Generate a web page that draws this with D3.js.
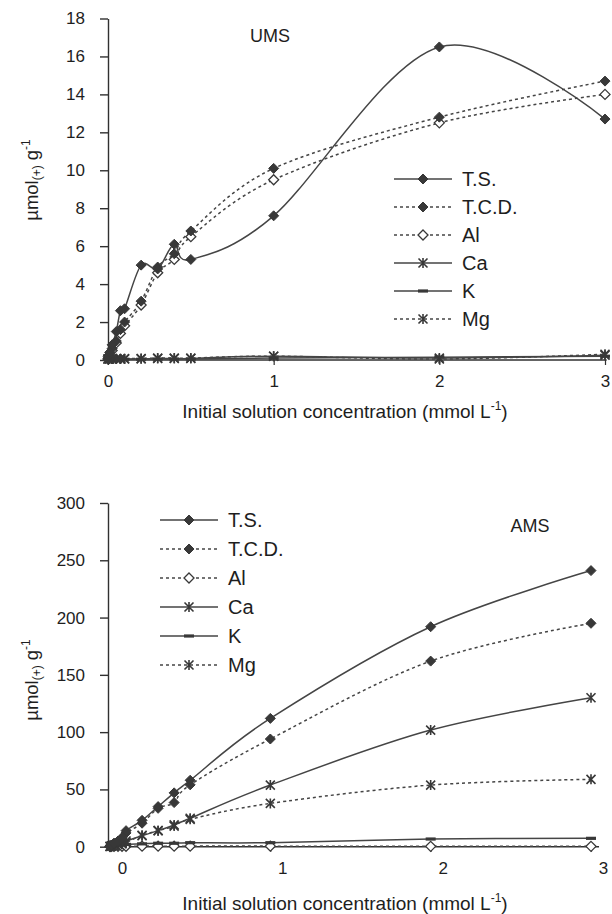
<!DOCTYPE html>
<html><head><meta charset="utf-8">
<script src="https://cdn.jsdelivr.net/npm/d3@7"></script>
<style>
body{margin:0;background:#fff}
svg{display:block}
text{font-family:"Liberation Sans",Arial,sans-serif;fill:#1e1e1e}
</style>
</head><body>
<svg id="c" width="612" height="914"></svg>
<script>
// ---------- data ----------
const concentrations = [0, 0.01, 0.025, 0.05, 0.075, 0.1, 0.2, 0.3, 0.4, 0.5, 1, 2, 3];
const seriesNames = ["T.S.", "T.C.D.", "Al", "Ca", "K", "Mg"];
const xTickValues = [0, 1, 2, 3];
const umsYTicks = [0, 2, 4, 6, 8, 10, 12, 14, 16, 18];
const amsYTicks = [0, 50, 100, 150, 200, 250, 300];

// UMS panel values (µmol(+) g-1)
const umsTS  = [0.2, 0.4, 0.8, 1.5, 2.6, 2.7, 5.0, 4.8, 6.1, 5.3, 7.6, 16.5, 12.7];
const umsTCD = [0.1, 0.3, 0.6, 1.0, 1.6, 2.0, 3.1, 4.9, 5.6, 6.8, 10.1, 12.8, 14.7];
const umsAl  = [0.05, 0.2, 0.5, 0.9, 1.4, 1.8, 2.9, 4.6, 5.3, 6.5, 9.5, 12.5, 14.0];
const umsCa  = [0.05, 0.05, 0.05, 0.05, 0.05, 0.05, 0.06, 0.08, 0.08, 0.08, 0.2, 0.1, 0.25];
const umsK   = [0.02, 0.02, 0.03, 0.03, 0.03, 0.04, 0.04, 0.05, 0.05, 0.05, 0.1, 0.15, 0.2];
const umsMg  = [0.05, 0.06, 0.06, 0.06, 0.07, 0.07, 0.08, 0.1, 0.1, 0.1, 0.2, 0.05, 0.3];

// AMS panel values (µmol(+) g-1)
const amsTS  = [0.5, 1.5, 3, 5, 8, 14, 23, 35, 47, 58, 112, 192, 241];
const amsTCD = [0.5, 1.3, 2.8, 4.8, 7.5, 12, 20.5, 33.5, 38.5, 54, 94, 162, 195];
const amsAl  = [0.2, 0.3, 0.3, 0.4, 0.4, 0.4, 0.5, 0.5, 0.5, 0.5, 0.5, 0.3, 0.3];
const amsCa  = [0.3, 0.8, 1.5, 2.5, 3.5, 5, 9.6, 14, 19, 24.8, 53.8, 101.8, 130];
const amsK   = [0.3, 0.5, 0.8, 1.2, 1.5, 2, 2.5, 3, 3, 3.5, 3.5, 6.7, 7.3];
const amsMg  = [0.2, 0.5, 1, 1.8, 2.5, 3.5, 10, 14, 18, 23.9, 37.8, 53.8, 58.8];

// ---------- styles ----------
const styleOf = {
  "T.S.":   {dash: null,  marker: "diamond"},
  "T.C.D.": {dash: "3,3", marker: "diamond"},
  "Al":     {dash: "3,3", marker: "diamondOpen"},
  "Ca":     {dash: null,  marker: "star"},
  "K":      {dash: null,  marker: "bar"},
  "Mg":     {dash: "3,3", marker: "star"}
};
const ink = "#454545";

const svg = d3.select("#c");

function drawMarker(g, type, cx, cy) {
  if (type === "diamond" || type === "diamondOpen") {
    const r = 5;
    g.append("path")
      .attr("d", `M${cx},${cy - r}L${cx + r},${cy}L${cx},${cy + r}L${cx - r},${cy}Z`)
      .attr("fill", type === "diamond" ? "#383838" : "#fff")
      .attr("stroke", "#383838").attr("stroke-width", type === "diamond" ? 1 : 1.3);
  } else if (type === "star") {
    const r = 4.5;
    g.append("path")
      .attr("d", `M${cx - r},${cy - r}L${cx + r},${cy + r}M${cx - r},${cy + r}L${cx + r},${cy - r}M${cx},${cy - r - 0.5}L${cx},${cy + r + 0.5}`)
      .attr("stroke", "#383838").attr("stroke-width", 1.6).attr("fill", "none");
  } else if (type === "bar") {
    g.append("rect").attr("x", cx - 5).attr("y", cy - 1.6).attr("width", 10).attr("height", 3.2)
      .attr("fill", "#383838");
  }
}

function panel(cfg) {
  const g = svg.append("g");
  const x = d3.scaleLinear().domain([0, 3]).range(cfg.xRange);
  const y = d3.scaleLinear().domain(cfg.yDomain).range(cfg.yRange);

  // y axis
  const ya = g.append("g").attr("transform", `translate(${cfg.axisX},0)`)
    .call(d3.axisLeft(y).tickValues(cfg.yTicks).tickSize(8).tickSizeOuter(0).tickPadding(15));
  ya.select(".domain").attr("stroke", "#303030").attr("stroke-width", 1.4);
  ya.selectAll(".tick line").attr("stroke", "#303030").attr("stroke-width", 1.4);
  ya.selectAll(".tick text").attr("font-size", 17).attr("fill", "#1e1e1e")
    .attr("font-family", "Liberation Sans, Arial, sans-serif");

  // x axis
  const xa = g.append("g").attr("transform", `translate(0,${y(0)})`)
    .call(d3.axisBottom(x).tickValues(xTickValues).tickFormat(d3.format("d")).tickSize(5).tickSizeOuter(0).tickPadding(10));
  xa.select(".domain").remove();
  xa.append("line").attr("x1", cfg.axisX).attr("x2", x(cfg.xEnd)).attr("stroke", "#303030").attr("stroke-width", 1.4);
  xa.selectAll(".tick line").attr("stroke", "#303030").attr("stroke-width", 1.2);
  xa.selectAll(".tick text").attr("font-size", 17).attr("fill", "#1e1e1e").attr("dx", cfg.labelDx)
    .attr("font-family", "Liberation Sans, Arial, sans-serif");

  // axis titles
  const xt = g.append("text").attr("x", cfg.xTitleX).attr("y", cfg.xTitleY).attr("text-anchor", "middle")
    .attr("font-size", 19);
  xt.append("tspan").text("Initial solution concentration (mmol L");
  xt.append("tspan").attr("font-size", 12).attr("dy", -8).text("-1");
  xt.append("tspan").attr("dy", 8).text(")");

  const yt = g.append("text").attr("transform", `translate(${cfg.yTitleX},${cfg.yTitleY}) rotate(-90)`)
    .attr("text-anchor", "middle").attr("font-size", 18.5);
  yt.append("tspan").text("µmol");
  yt.append("tspan").attr("font-size", 12).attr("dy", 3).text("(+)");
  yt.append("tspan").attr("dy", -3).text(" g");
  yt.append("tspan").attr("font-size", 12).attr("dy", -8).text("-1");

  // panel label
  g.append("text").attr("x", cfg.labelX).attr("y", cfg.labelY).attr("text-anchor", "middle")
    .attr("font-size", 18).text(cfg.label);

  // series (smoothed like the original spreadsheet lines)
  const line = d3.line().x((d, i) => x(concentrations[i])).y(d => y(d)).curve(d3.curveCatmullRom.alpha(0));
  const order = ["Al", "Mg", "K", "Ca", "T.C.D.", "T.S."];
  order.forEach(name => {
    const vals = cfg.series[name];
    const st = styleOf[name];
    g.append("path").attr("d", line(vals)).attr("fill", "none").attr("stroke", ink)
      .attr("stroke-width", 1.5).attr("stroke-dasharray", st.dash);
  });
  order.forEach(name => {
    const vals = cfg.series[name];
    const mg = g.append("g");
    vals.forEach((v, i) => drawMarker(mg, styleOf[name].marker, x(concentrations[i]), y(v)));
  });

  // legend
  const lg = g.append("g");
  seriesNames.forEach((name, i) => {
    const ly = cfg.legY + i * cfg.legStep;
    const st = styleOf[name];
    lg.append("line").attr("x1", cfg.legX).attr("x2", cfg.legX + 58).attr("y1", ly).attr("y2", ly)
      .attr("stroke", ink).attr("stroke-width", 1.5).attr("stroke-dasharray", st.dash);
    drawMarker(lg, st.marker, cfg.legX + 29, ly);
    lg.append("text").attr("x", cfg.legX + 68).attr("y", ly).attr("dy", "0.36em")
      .attr("font-size", 20).text(name);
  });
}

panel({
  label: "UMS", labelX: 270, labelY: 42,
  xRange: [108, 605], axisX: 108, xEnd: 3.01, labelDx: 0,
  yDomain: [0, 18], yRange: [360, 18.5], yTicks: umsYTicks,
  xTitleX: 345, xTitleY: 418, yTitleX: 38, yTitleY: 180,
  legX: 394, legY: 179, legStep: 28,
  series: {"T.S.": umsTS, "T.C.D.": umsTCD, "Al": umsAl, "Ca": umsCa, "K": umsK, "Mg": umsMg}
});

panel({
  label: "AMS", labelX: 530, labelY: 532,
  xRange: [110, 591], axisX: 108, xEnd: 3.05, labelDx: 12,
  yDomain: [0, 300], yRange: [846.7, 503], yTicks: amsYTicks,
  xTitleX: 345, xTitleY: 910, yTitleX: 38, yTitleY: 680,
  legX: 160, legY: 520, legStep: 29,
  series: {"T.S.": amsTS, "T.C.D.": amsTCD, "Al": amsAl, "Ca": amsCa, "K": amsK, "Mg": amsMg}
});
</script>
</body></html>
